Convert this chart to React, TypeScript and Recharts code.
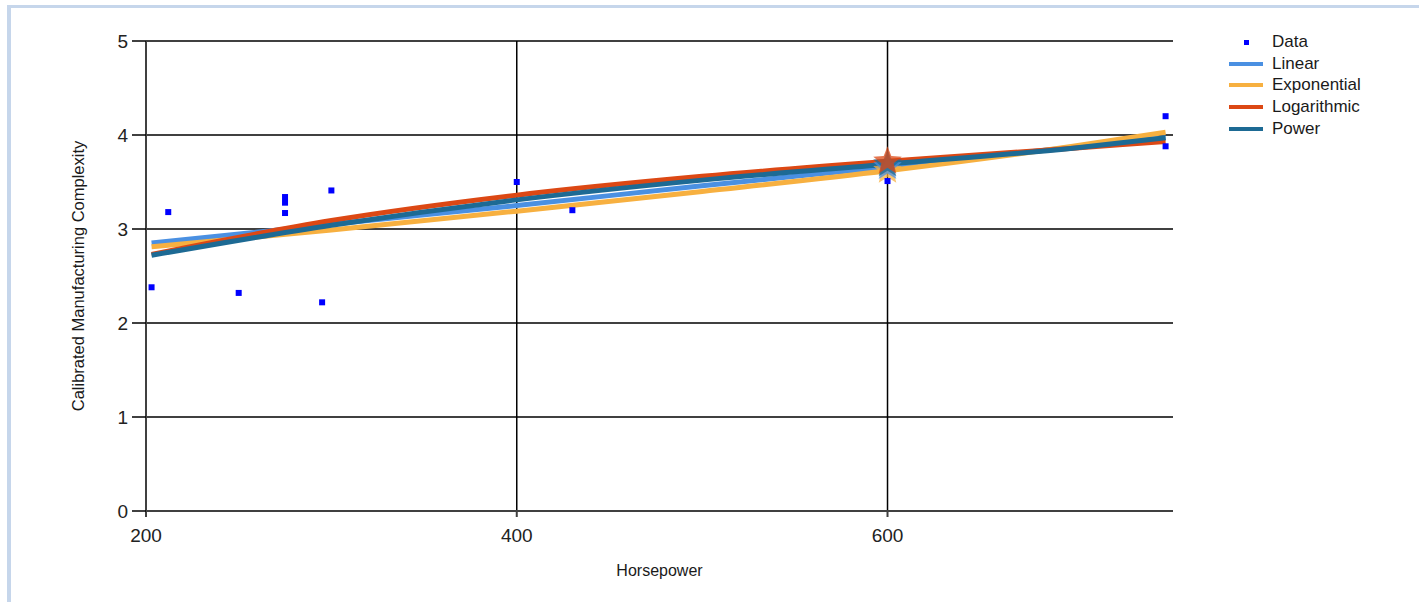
import React from "react";
import { ComposedChart, XAxis, YAxis, CartesianGrid, Line, Scatter, Label, ReferenceLine } from "recharts";

// ---- data ----
const xTicks = [200, 400, 600];
const xGridValues = [400, 600];
const yTicks = [0, 1, 2, 3, 4, 5];

const dataHp = [203, 212, 250, 275, 275, 275, 295, 300, 400, 430, 600, 750, 750];
const dataComplexity = [2.38, 3.18, 2.32, 3.34, 3.28, 3.17, 2.22, 3.41, 3.5, 3.2, 3.51, 4.2, 3.88];

const fitHp = [203, 300, 400, 500, 600, 700, 750];
const linearFit = [2.85, 3.05, 3.25, 3.46, 3.66, 3.87, 3.97];
const exponentialFit = [2.81, 2.99, 3.19, 3.4, 3.62, 3.88, 4.03];
const logarithmicFit = [2.73, 3.09, 3.36, 3.56, 3.72, 3.86, 3.93];
const powerFit = [2.72, 3.04, 3.31, 3.52, 3.69, 3.86, 3.97];

const predictionHp = 600;
const predLinear = 3.66;
const predExponential = 3.62;
const predLogarithmic = 3.72;
const predPower = 3.69;

const seriesNames = ["Data", "Linear", "Exponential", "Logarithmic", "Power"];
const colors: Record<string, string> = {
  Data: "#0000FF",
  Linear: "#4A90E2",
  Exponential: "#F7B040",
  Logarithmic: "#DC4814",
  Power: "#1D6A94",
};

const toPts = (xs: number[], ys: number[]) => xs.map((x, i) => ({ x, y: ys[i] }));
const scatterData = toPts(dataHp, dataComplexity);
const linearData = toPts(fitHp, linearFit);
const expData = toPts(fitHp, exponentialFit);
const logData = toPts(fitHp, logarithmicFit);
const powData = toPts(fitHp, powerFit);

const FONT = "'Liberation Sans', Arial, sans-serif";

const Square = (props: any) => {
  const { cx, cy } = props;
  if (cx == null || cy == null) return null;
  return <rect x={cx - 3} y={cy - 3} width={6} height={6} fill={colors.Data} />;
};

const makeStar = (color: string) => (props: any) => {
  const { cx, cy } = props;
  if (cx == null || cy == null) return null;
  const pts: string[] = [];
  for (let i = 0; i < 10; i++) {
    const r = i % 2 === 0 ? 15 : 6.5;
    const a = (Math.PI / 5) * i - Math.PI / 2;
    pts.push(`${cx + r * Math.cos(a)},${cy + r * Math.sin(a)}`);
  }
  return <polygon points={pts.join(" ")} fill={color} fillOpacity={0.75} />;
};

const LegendBox = () => (
  <div style={{ position: "absolute", left: 1229, top: 31, fontFamily: FONT, fontSize: 17, color: "#1a1a1a" }}>
    {seriesNames.map((n) => (
      <div key={n} style={{ display: "flex", alignItems: "center", height: 21.7 }}>
        <div style={{ width: 34, height: 21.7, position: "relative" }}>
          {n === "Data" ? (
            <div style={{ position: "absolute", left: 15, top: 8.5, width: 5, height: 5, background: colors.Data }} />
          ) : (
            <div style={{ position: "absolute", left: 0, top: 9, width: 34, height: 4, background: colors[n] }} />
          )}
        </div>
        <span style={{ marginLeft: 9, lineHeight: "21.7px" }}>{n}</span>
      </div>
    ))}
  </div>
);

export default function App() {
  return (
    <div style={{ position: "fixed", left: 0, top: 0, width: 1419, height: 602, overflow: "hidden", background: "#fff" }}>
      <div
        style={{
          position: "absolute",
          left: 7,
          top: 5,
          width: 1440,
          height: 640,
          borderLeft: "4px solid #C6D6EB",
          borderTop: "3px solid #C6D6EB",
          background: "#fff",
        }}
      />
      <div style={{ position: "absolute", left: 0, top: 0 }}>
        <ComposedChart
          width={1419}
          height={602}
          margin={{ top: 41, right: 246, bottom: 31, left: 86 }}
          style={{ fontFamily: FONT }}
        >
          <CartesianGrid stroke="#000" strokeWidth={1.5} vertical={false} horizontal />
          {xGridValues.map((v) => (
            <ReferenceLine key={v} x={v} stroke="#000" strokeWidth={1.5} ifOverflow="hidden" />
          ))}
          <XAxis
            type="number"
            dataKey="x"
            domain={[200, 754]}
            ticks={xTicks}
            height={60}
            tickSize={6}
            tickMargin={12}
            allowDataOverflow
            axisLine={{ stroke: "#404040", strokeWidth: 2 }}
            tickLine={{ stroke: "#404040", strokeWidth: 2 }}
            tick={{ fill: "#222", fontSize: 19, fontFamily: FONT }}
          >
            <Label
              value="Horsepower"
              position="insideBottom"
              offset={-5}
              style={{ fill: "#1a1a1a", fontSize: 16, fontFamily: FONT }}
            />
          </XAxis>
          <YAxis
            type="number"
            dataKey="y"
            domain={[0, 5]}
            ticks={yTicks}
            width={60}
            tickSize={14}
            tickMargin={4}
            axisLine={{ stroke: "#404040", strokeWidth: 2 }}
            tickLine={{ stroke: "#000", strokeWidth: 1.5 }}
            tick={{ fill: "#222", fontSize: 19, fontFamily: FONT }}
          >
            <Label
              value="Calibrated Manufacturing Complexity"
              angle={-90}
              position="insideLeft"
              offset={-8}
              style={{ fill: "#1a1a1a", fontSize: 16.5, fontFamily: FONT, textAnchor: "middle" }}
            />
          </YAxis>

          <Scatter data={[{ x: predictionHp, y: predExponential }]} shape={makeStar(colors.Exponential)} isAnimationActive={false} legendType="none" />
          <Scatter data={[{ x: predictionHp, y: predLinear }]} shape={makeStar(colors.Linear)} isAnimationActive={false} legendType="none" />
          <Scatter data={[{ x: predictionHp, y: predPower }]} shape={makeStar(colors.Power)} isAnimationActive={false} legendType="none" />
          <Scatter data={[{ x: predictionHp, y: predLogarithmic }]} shape={makeStar(colors.Logarithmic)} isAnimationActive={false} legendType="none" />

          <Line data={linearData} dataKey="y" type="monotone" stroke={colors.Linear} strokeWidth={5} dot={false} isAnimationActive={false} name="Linear" />
          <Line data={expData} dataKey="y" type="monotone" stroke={colors.Exponential} strokeWidth={5} dot={false} isAnimationActive={false} name="Exponential" />
          <Line data={logData} dataKey="y" type="monotone" stroke={colors.Logarithmic} strokeWidth={5} dot={false} isAnimationActive={false} name="Logarithmic" />
          <Line data={powData} dataKey="y" type="monotone" stroke={colors.Power} strokeWidth={5} dot={false} isAnimationActive={false} name="Power" />

          <Scatter data={scatterData} shape={Square} isAnimationActive={false} name="Data" />
        </ComposedChart>
      </div>
      <LegendBox />
    </div>
  );
}
